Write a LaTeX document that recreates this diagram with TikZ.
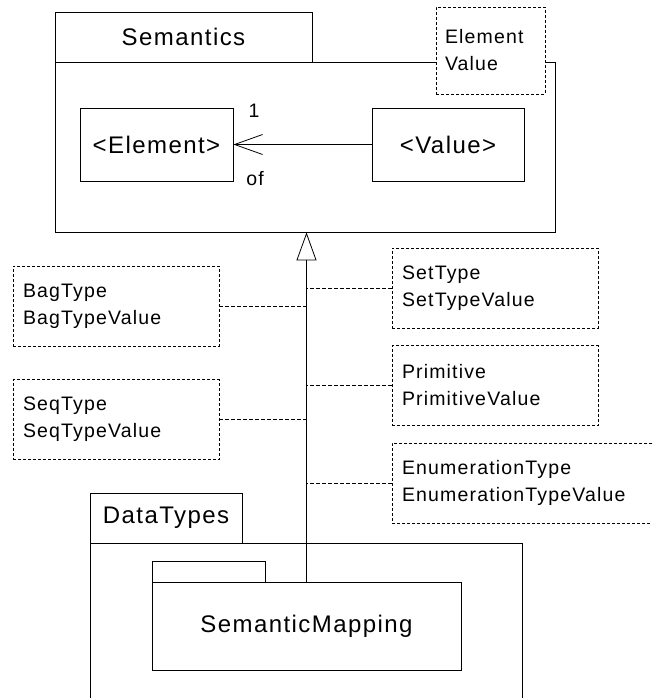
\documentclass[tikz,border=0pt]{standalone}
\usepackage{fontspec}
\newfontfamily\umlfont[LetterSpace=6]{Liberation Sans}
\usetikzlibrary{arrows.meta}
\tikzset{
  big/.style={font=\umlfont\fontsize{24}{28}\selectfont},
  small/.style={font=\umlfont\fontsize{19.5}{27}\selectfont},
  box/.style={draw,inner sep=0pt,big},
  note/.style={draw,dash pattern=on 3pt off 2pt,fill=white,small,align=left,
    inner xsep=10pt,inner ysep=0pt,minimum height=80pt,text width=186pt},
  link/.style={dash pattern=on 4pt off 2pt,line width=1pt},
}
\begin{document}
\begin{tikzpicture}[x=1pt,y=-1pt,line width=0.8pt]
  \useasboundingbox (0,0) rectangle (651,698);
  % package Semantics
  \node[box,minimum width=500pt,minimum height=170pt] (Sbody) at (305,147) {};
  \node[box,minimum width=257pt,minimum height=50pt] (Stab) at (183.5,37) {Semantics};
  \node[note,inner xsep=9pt,text width=91pt,minimum height=87pt] (EV) at (490.5,50.5) {Element\\Value};
  \node[box,minimum width=153pt,minimum height=73pt] (Elem) at (156.5,144.5) {<Element>};
  \node[box,minimum width=152pt,minimum height=73pt] (Val)  at (448,144.5) {<Value>};
  \draw[-{Straight Barb[length=28pt,width=20pt]}] (Val) -- (Elem);
  \node[small] (one) at (254,111) {1};
  \node[small] (of)  at (255,179) {of};
  % package DataTypes
  \node[box,minimum width=432pt,minimum height=180pt] (DTbody) at (306,633) {};
  \node[box,minimum width=152pt,minimum height=50pt] (DTtab) at (166,518) {DataTypes};
  \node[box,minimum width=113pt,minimum height=21pt] (SMtab) at (208.5,571.5) {};
  \node[box,minimum width=309pt,minimum height=88pt] (SMap)  at (306.5,626) {SemanticMapping};
  \draw[-{Triangle[open,length=28pt,width=20pt]}] (SMap.north) -- (SMap.north |- Sbody.south);
  % notes
  \node[note] (Bag)  at (116,306)   {BagType\\BagTypeValue};
  \node[note] (Seq)  at (116,419.5) {SeqType\\SeqTypeValue};
  \node[note] (Set)  at (495,288)   {SetType\\SetTypeValue};
  \node[note] (Prim) at (495,385.5) {Primitive\\PrimitiveValue};
  \node[note,text width=260pt] (Enum) at (532,483) {EnumerationType\\EnumerationTypeValue};
  \draw[link] (Bag.east)  -- (Bag.east -| SMap.north);
  \draw[link] (Seq.east)  -- (Seq.east -| SMap.north);
  \draw[link] (Set.west)  -- (Set.west -| SMap.north);
  \draw[link] (Prim.west) -- (Prim.west -| SMap.north);
  \draw[link] (Enum.west) -- (Enum.west -| SMap.north);
\end{tikzpicture}
\end{document}
